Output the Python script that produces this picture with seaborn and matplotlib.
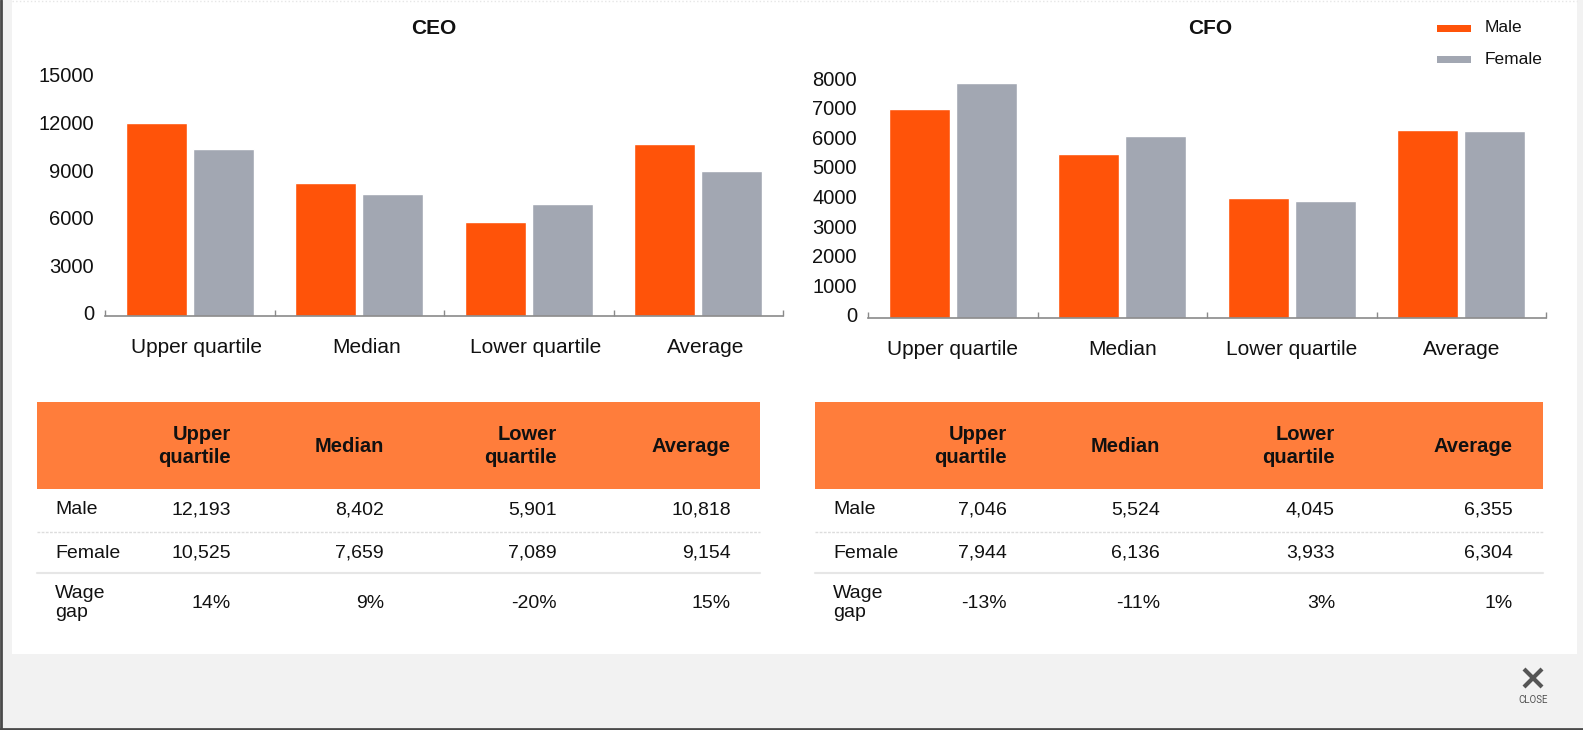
import matplotlib
matplotlib.use("Agg")
import matplotlib.pyplot as plt
import matplotlib.transforms as mtrans
from matplotlib.patches import Rectangle
import numpy as np
import pandas as pd
import seaborn as sns

categories = ["Upper quartile", "Median", "Lower quartile", "Average"]
header_labels = ["Upper\nquartile", "Median", "Lower\nquartile", "Average"]
sexes = ["Male", "Female"]

ceo_male = [12193, 8402, 5901, 10818]
ceo_female = [10525, 7659, 7089, 9154]
ceo_gap = [14, 9, -20, 15]

cfo_male = [7046, 5524, 4045, 6355]
cfo_female = [7944, 6136, 3933, 6304]
cfo_gap = [-13, -11, 3, 1]

ceo_ticks = [0, 3000, 6000, 9000, 12000, 15000]
cfo_ticks = [0, 1000, 2000, 3000, 4000, 5000, 6000, 7000, 8000]

ORANGE = "#FF5309"
GRAY = "#A2A7B2"
HEADER = "#FF7D3B"

sns.set_style("white")
plt.rcParams["font.family"] = ["Liberation Sans", "DejaVu Sans"]

W, H = 1583, 730
fig = plt.figure(figsize=(W / 100, H / 100), dpi=100)
fig.patch.set_facecolor("#F2F2F2")

# full-figure pixel axes for panel, tables and decorations
bg = fig.add_axes([0, 0, 1, 1], zorder=0)
bg.set_xlim(0, W)
bg.set_ylim(H, 0)
bg.axis("off")
bg.add_patch(Rectangle((12, 0), 1565, 654, facecolor="white", edgecolor="none"))
bg.plot([1, 1], [0, H], color="#4a4a4a", lw=2)
bg.plot([0, W], [729, 729], color="#4a4a4a", lw=2)
bg.plot([12, 1577], [1, 1], color="#e6e6e6", lw=1, ls=":")


def px_axes(x0, x1, y_top, y_bot):
    return fig.add_axes([x0 / W, 1 - y_bot / H, (x1 - x0) / W, (y_bot - y_top) / H], zorder=2)


def bar_panel(ax, male, female, ticks, title, title_x, xlab_shift):
    df = pd.DataFrame({
        "category": categories * 2,
        "sex": ["Male"] * 4 + ["Female"] * 4,
        "value": male + female,
    })
    sns.barplot(data=df, x="category", y="value", hue="sex", hue_order=sexes,
                palette=[ORANGE, GRAY], saturation=1, width=0.79, gap=0.09,
                legend=False, ax=ax)
    ax.set_facecolor("none")
    ax.set_xlim(-0.5, 3.5)
    ax.set_ylim(0, ticks[-1])
    ax.set_yticks(ticks)
    ax.set_xlabel("")
    ax.set_ylabel("")
    for s in ["top", "right", "left"]:
        ax.spines[s].set_visible(False)
    ax.spines["bottom"].set_color("#8a8a8a")
    ax.spines["bottom"].set_linewidth(1.2)
    ax.set_xticks(np.arange(-0.5, 4, 1), minor=True)
    ax.tick_params(axis="x", which="minor", bottom=True, direction="in", length=4,
                   width=1, color="#8a8a8a")
    ax.tick_params(axis="x", which="major", bottom=True, length=0, pad=16,
                   labelsize=15, labelcolor="#111111")
    ax.tick_params(axis="y", length=0, pad=8, labelsize=14.5, labelcolor="#111111")
    offset = mtrans.ScaledTranslation(0, 3 / 100, fig.dpi_scale_trans)
    for lab in ax.get_yticklabels():
        lab.set_transform(lab.get_transform() + offset)
    xoff = mtrans.ScaledTranslation(xlab_shift / 100, 0, fig.dpi_scale_trans)
    for lab in ax.get_xticklabels():
        lab.set_transform(lab.get_transform() + xoff)
    bg.text(title_x, 28, title, ha="center", va="center", fontsize=15, fontweight="bold", color="#111111")


ax1 = px_axes(105, 783, 78, 316)
bar_panel(ax1, ceo_male, ceo_female, ceo_ticks, "CEO", 434, 7)
ax2 = px_axes(868, 1546, 81, 318)
bar_panel(ax2, cfo_male, cfo_female, cfo_ticks, "CFO", 1210, 0)

# legend
for (label, color, y) in [("Male", ORANGE, 28), ("Female", GRAY, 59)]:
    bg.add_patch(Rectangle((1437, y - 3.5), 34, 7, facecolor=color, edgecolor="none"))
    bg.text(1485, y, label, ha="left", va="center", fontsize=12.5, color="#111111")


def table(x0, x1, col_rights, male, female, gap):
    bg.add_patch(Rectangle((x0, 402), x1 - x0, 87, facecolor=HEADER, edgecolor="none"))
    for xr, h in zip(col_rights, header_labels):
        bg.text(xr, 446, h, ha="right", va="center", fontsize=14.5, fontweight="bold",
                color="#111111", linespacing=1.25)
    bg.plot([x0, x1], [532, 532], color="#dddddd", lw=1, ls=(0, (2, 1)))
    bg.plot([x0, x1], [573, 573], color="#e6e6e6", lw=1.5)
    lx = x0 + 18
    bg.text(lx, 510, "Male", ha="left", va="center", fontsize=14, color="#111111")
    bg.text(lx, 553, "Female", ha="left", va="center", fontsize=14, color="#111111")
    bg.text(lx, 603, "Wage\ngap", ha="left", va="center", fontsize=14, color="#111111", linespacing=1.15)
    for xr, m, f, g in zip(col_rights, male, female, gap):
        bg.text(xr, 510, f"{m:,}", ha="right", va="center", fontsize=14, color="#111111")
        bg.text(xr, 553, f"{f:,}", ha="right", va="center", fontsize=14, color="#111111")
        bg.text(xr, 603, f"{g}%", ha="right", va="center", fontsize=14, color="#111111")


table(37, 760, [231, 384, 557, 731], ceo_male, ceo_female, ceo_gap)
table(815, 1543, [1007, 1160, 1335, 1513], cfo_male, cfo_female, cfo_gap)

# close button
bg.plot([1524, 1542], [669, 687], color="#555555", lw=3, solid_capstyle="butt")
bg.plot([1524, 1542], [687, 669], color="#555555", lw=3, solid_capstyle="butt")
bg.text(1533, 700, "CLOSE", ha="center", va="center", fontsize=7, color="#555555",
        family=["Roboto", "DejaVu Sans"])

fig.savefig("out.png", dpi=100, facecolor=fig.get_facecolor())
